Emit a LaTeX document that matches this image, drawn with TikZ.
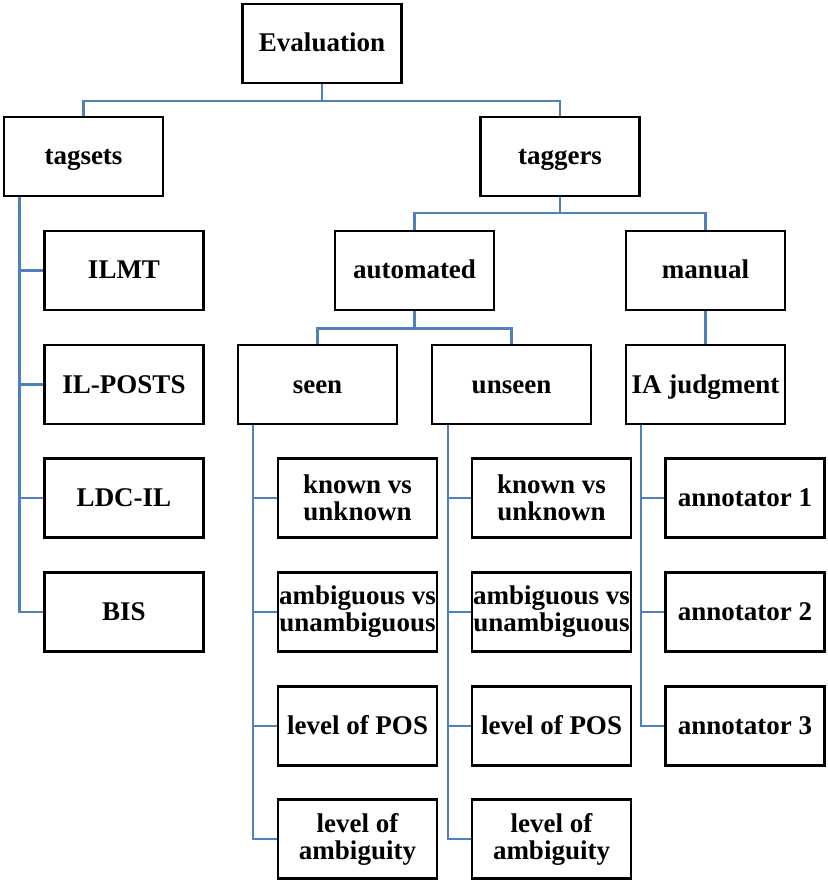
\documentclass[tikz,border=0pt]{standalone}
\usepackage{fontspec}
\setmainfont{Liberation Serif}
\begin{document}
\begin{tikzpicture}[x=1pt,y=-1pt,
  box/.style={draw=black, line width=2.2pt, fill=white, minimum width=159pt,
    minimum height=79pt, inner sep=0pt, align=center,
    font=\fontsize{27}{27}\selectfont\bfseries},
  oneline/.style={box, text height=17pt, text depth=0pt},
  conn/.style={draw={rgb,255:red,79;green,129;blue,189}, line width=2.8pt}]
\useasboundingbox (0,0) rectangle (827,882);

% top levels
\node[oneline] (ev) at (322,43.5) {Evaluation};
\node[oneline] (ts) at (83.5,156.5) {tagsets};
\node[oneline] (tg) at (560,156.5) {taggers};

% tagsets branch
\node[oneline] (ilmt) at (124,270.5) {ILMT};
\node[oneline] (ilp)  at (124,384.5) {IL-POSTS};
\node[oneline] (ldc)  at (124,498)   {LDC-IL};
\node[oneline] (bis)  at (124,612)   {BIS};

% taggers branch
\node[oneline] (auto) at (414.5,270.5) {automated};
\node[oneline] (man)  at (705.5,270.5) {manual};
\node[oneline] (seen) at (317.5,384.5) {seen};
\node[oneline] (unsn) at (511.5,384.5) {unseen};
\node[oneline] (ia)   at (705.5,384.5) {IA judgment};

% seen children
\node[box] (s1) at (357.5,498) {known vs\\unknown};
\node[box] (s2) at (357.5,612) {ambiguous vs\\unambiguous};
\node[oneline] (s3) at (357.5,726) {level of POS};
\node[box] (s4) at (357.5,839) {level of\\ambiguity};

% unseen children
\node[box] (u1) at (551.5,498) {known vs\\unknown};
\node[box] (u2) at (551.5,612) {ambiguous vs\\unambiguous};
\node[oneline] (u3) at (551.5,726) {level of POS};
\node[box] (u4) at (551.5,839) {level of\\ambiguity};

% annotators
\node[oneline] (a1) at (745,498) {annotator 1};
\node[oneline] (a2) at (745,612) {annotator 2};
\node[oneline] (a3) at (745,726) {annotator 3};

% connectors
\draw[conn] (ev.south) -- ++(0,17) -| (ts.north);
\draw[conn] (ev.south) -- ++(0,17) -| (tg.north);
\draw[conn] (tg.south) -- ++(0,16) -| (auto.north);
\draw[conn] (tg.south) -- ++(0,16) -| (man.north);
\draw[conn] (auto.south) -- ++(0,17) -| (seen.north);
\draw[conn] (auto.south) -- ++(0,17) -| (unsn.north);
\draw[conn] (man.south) -- (ia.north);
\foreach \c in {ilmt,ilp,ldc,bis}
  \draw[conn] ([xshift=16.5pt]ts.south west) |- (\c.west);
\foreach \c in {s1,s2,s3,s4}
  \draw[conn] ([xshift=16pt]seen.south west) |- (\c.west);
\foreach \c in {u1,u2,u3,u4}
  \draw[conn] ([xshift=17pt]unsn.south west) |- (\c.west);
\foreach \c in {a1,a2,a3}
  \draw[conn] ([xshift=16pt]ia.south west) |- (\c.west);
\end{tikzpicture}
\end{document}
